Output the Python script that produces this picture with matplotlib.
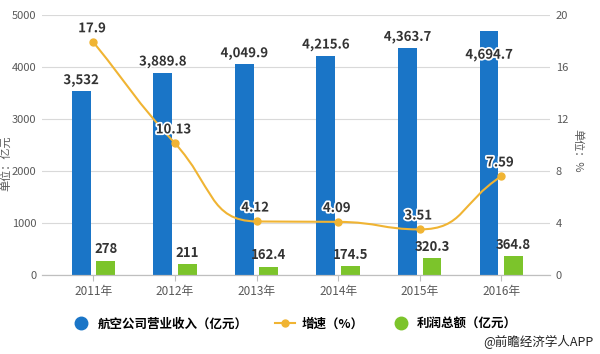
import numpy as np
import matplotlib.pyplot as plt
import matplotlib.patheffects as pe
from matplotlib.path import Path
from matplotlib.patches import PathPatch
from matplotlib.lines import Line2D

plt.rcParams['font.family'] = ['Noto Sans CJK SC', 'DejaVu Sans']

years = ['2011年', '2012年', '2013年', '2014年', '2015年', '2016年']
revenue = [3532, 3889.8, 4049.9, 4215.6, 4363.7, 4694.7]
revenue_txt = ['3,532', '3,889.8', '4,049.9', '4,215.6', '4,363.7', '4,694.7']
growth = [17.9, 10.13, 4.12, 4.09, 3.51, 7.59]
growth_txt = ['17.9', '10.13', '4.12', '4.09', '3.51', '7.59']
profit = [278, 211, 162.4, 174.5, 320.3, 364.8]
profit_txt = ['278', '211', '162.4', '174.5', '320.3', '364.8']

blue = '#1a75c7'
green = '#7cc42b'
gold = '#f0b433'
grey = '#595959'


def smooth_path(xs, ys, sx, sy, smooth=0.5):
    # echarts-like smoothing, done in pixel-ish units
    px = np.asarray(xs, float) * sx
    py = np.asarray(ys, float) * sy
    n = len(px)
    cin = [None] * n
    cout = [None] * n
    for i in range(n):
        x, y = px[i], py[i]
        if i == 0:
            nx, ny = px[1], py[1]
            cout[i] = (x + (nx - x) * smooth, y + (ny - y) * smooth)
            continue
        if i == n - 1:
            qx, qy = px[i - 1], py[i - 1]
            cin[i] = (x - (x - qx) * smooth, y - (y - qy) * smooth)
            continue
        qx, qy = px[i - 1], py[i - 1]
        nx, ny = px[i + 1], py[i + 1]
        vx, vy = nx - qx, ny - qy
        lp = np.hypot(x - qx, y - qy)
        ln = np.hypot(nx - x, ny - y)
        r = ln / (ln + lp)
        cx = x + vx * smooth * r
        cy = y + vy * smooth * r
        cx = max(min(cx, max(nx, x)), min(nx, x))
        cy = max(min(cy, max(ny, y)), min(ny, y))
        vx, vy = cx - x, cy - y
        bx = x - vx * lp / ln
        by = y - vy * lp / ln
        bx = max(min(bx, max(qx, x)), min(qx, x))
        by = max(min(by, max(qy, y)), min(qy, y))
        vx, vy = x - bx, y - by
        cx = x + vx * ln / lp
        cy = y + vy * ln / lp
        cin[i] = (bx, by)
        cout[i] = (cx, cy)
    verts = [(px[0], py[0])]
    codes = [Path.MOVETO]
    for i in range(n - 1):
        verts += [cout[i], cin[i + 1], (px[i + 1], py[i + 1])]
        codes += [Path.CURVE4] * 3
    verts = [(a / sx, b / sy) for a, b in verts]
    return Path(verts, codes)


fig = plt.figure(figsize=(6, 3.54), dpi=100)
ax = fig.add_axes([0.07, 0.223, 0.847, 0.735])
ax2 = ax.twinx()

x = np.arange(len(years))
w = 0.23
ax.bar(x - 0.15, revenue, w, color=blue, zorder=2)
ax.bar(x + 0.15, profit, w, color=green, zorder=2)

ax.set_ylim(0, 5000)
ax.set_yticks(range(0, 5001, 1000))
ax.set_xlim(-0.63, 5.6)
ax.set_xticks(x)
ax.set_xticklabels(years)
ax.grid(axis='y', color='#d9d9d9', linewidth=0.8, zorder=0)
ax.set_axisbelow(True)

ax2.set_ylim(0, 20)
ax2.set_yticks(range(0, 21, 4))

for a in (ax, ax2):
    for s in ('top', 'left', 'right'):
        a.spines[s].set_visible(False)
    a.spines['bottom'].set_color('#bfbfbf')
    a.tick_params(axis='y', length=0, labelsize=8, colors=grey, pad=4)
ax.tick_params(axis='x', length=4, color='#bfbfbf', labelsize=8.5, labelcolor=grey, pad=3)

lab = dict(ha='center', va='center', fontsize=9.5, fontweight='bold', color='#333333',
           textcoords='offset points')
halo = [pe.withStroke(linewidth=2.5, foreground='white')]

for i in range(len(years)):
    yv = min(revenue[i], 4500)
    ax.annotate(revenue_txt[i], (x[i] - 0.15, yv), xytext=(0, 8 if revenue[i] < 4500 else -10),
                path_effects=halo, **lab)
    ax.annotate(profit_txt[i], (x[i] + 0.15, profit[i]), xytext=(0, 8), **lab)

path = smooth_path(x, growth, 81.5, 13.0)
ax2.add_patch(PathPatch(path, fill=False, edgecolor=gold, linewidth=1.5, zorder=3))
ax2.plot(x, growth, 'o', color=gold, markersize=5, zorder=4)
for i in range(len(years)):
    ax2.annotate(growth_txt[i], (x[i], growth[i]), xytext=(-1, 10), path_effects=halo,
                 zorder=5, **lab)

fig.text(0.009, 0.54, '单位：亿元', rotation=90, ha='center', va='center',
         fontsize=8, color=grey)
fig.text(0.962, 0.575, '单位：%', rotation=270, ha='center', va='center',
         fontsize=8, color=grey)

handles = [
    Line2D([], [], marker='o', linestyle='none', color=blue, markersize=9),
    Line2D([], [], marker='o', color=gold, markersize=5, linewidth=1.5),
    Line2D([], [], marker='o', linestyle='none', color=green, markersize=9),
]
labels = ['航空公司营业收入（亿元）', '增速（%）', '利润总额（亿元）']
fig.legend(handles, labels, loc='center', bbox_to_anchor=(0.49, 0.085), ncol=3,
           frameon=False, handlelength=1.6, handletextpad=0.5,
           columnspacing=2.2, prop={'weight': 'bold', 'size': 9})

fig.text(0.99, 0.035, '@前瞻经济学人APP', ha='right', va='center', fontsize=9, color='#222222')

fig.savefig('out.png', dpi=100)
